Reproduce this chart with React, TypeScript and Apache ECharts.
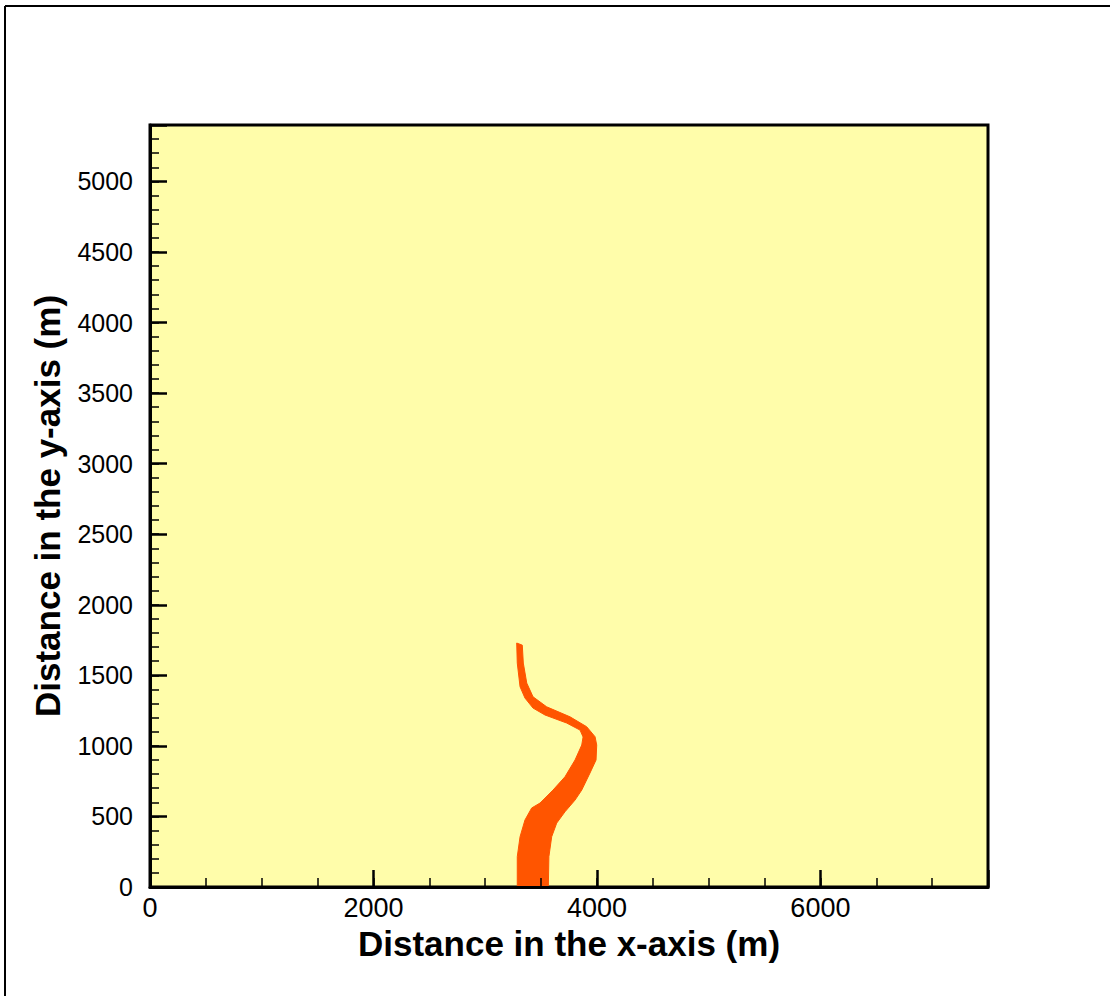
import React, { useEffect, useRef } from "react";
import * as echarts from "echarts";

// Axis ranges and tick spacing
const xRange = [0, 7500];
const yRange = [0, 5400];
const xMajorStep = 2000;
const xMinorStep = 500;
const yMajorStep = 500;
const yMinorStep = 100;

// Plume outline: left edge from tip down to the base (x, y in metres)
const leftEdgeX = [3282, 3287, 3312, 3356, 3428, 3535, 3729, 3849, 3876, 3864, 3804, 3714, 3607, 3491, 3416, 3356, 3312, 3287, 3287];
const leftEdgeY = [1729, 1587, 1419, 1339, 1268, 1219, 1162, 1112, 1063, 1006, 900, 781, 687, 595, 560, 475, 356, 215, 0];
// Right edge from tip down to the base
const rightEdgeX = [3332, 3341, 3372, 3428, 3550, 3759, 3908, 3983, 3998, 3992, 3938, 3864, 3804, 3714, 3640, 3595, 3570, 3565];
const rightEdgeY = [1714, 1587, 1445, 1348, 1277, 1206, 1136, 1065, 1006, 900, 808, 687, 616, 533, 453, 356, 215, 0];

const FONT = "'Liberation Sans', Arial, sans-serif";

export default function App() {
  const ref = useRef<HTMLDivElement>(null);

  useEffect(() => {
    if (!ref.current) return;
    const chart = echarts.init(ref.current, null, { renderer: "svg" });

    // closed polygon: left edge downwards, right edge back upwards
    const outline: number[][] = [];
    leftEdgeX.forEach((x, i) => outline.push([x, leftEdgeY[i]]));
    for (let i = rightEdgeX.length - 1; i >= 0; i--) outline.push([rightEdgeX[i], rightEdgeY[i]]);

    chart.setOption({
      animation: false,
      backgroundColor: "#ffffff",
      grid: {
        left: 150,
        right: 122,
        top: 125,
        bottom: 109,
        show: true,
        backgroundColor: "#FFFDAA",
        borderColor: "#000000",
        borderWidth: 3,
        z: 0,
      },
      xAxis: [
        {
          type: "value",
          position: "bottom",
          min: xRange[0],
          max: xRange[1],
          interval: xMajorStep,
          splitLine: { show: false },
          axisLine: { show: true, lineStyle: { color: "#000", width: 3 } },
          axisTick: { show: true, inside: true, length: 17, lineStyle: { color: "#000", width: 2.5 } },
          axisLabel: {
            color: "#000",
            fontSize: 27,
            fontFamily: FONT,
            margin: 7,
            formatter: (v: number) => (v % xMajorStep === 0 ? String(v) : ""),
          },
          name: "Distance in the x-axis (m)",
          nameLocation: "middle",
          nameGap: 33,
          nameTextStyle: { color: "#000", fontSize: 35, fontWeight: "bold", fontFamily: FONT },
          z: 5,
        },
        {
          type: "value",
          position: "bottom",
          min: xRange[0],
          max: xRange[1],
          interval: xMinorStep,
          splitLine: { show: false },
          axisLine: { show: false },
          axisTick: { show: true, inside: true, length: 9, lineStyle: { color: "#000", width: 1.5 } },
          axisLabel: { show: false },
          z: 5,
        },
      ],
      yAxis: [
        {
          type: "value",
          position: "left",
          min: yRange[0],
          max: yRange[1],
          interval: yMajorStep,
          splitLine: { show: false },
          axisLine: { show: true, lineStyle: { color: "#000", width: 3 } },
          axisTick: { show: true, inside: true, length: 17, lineStyle: { color: "#000", width: 2.5 } },
          axisLabel: {
            color: "#000",
            fontSize: 25,
            fontFamily: FONT,
            margin: 17,
            formatter: (v: number) => (v % yMajorStep === 0 ? String(v) : ""),
          },
          name: "Distance in the y-axis (m)",
          nameLocation: "middle",
          nameGap: 85,
          nameTextStyle: { color: "#000", fontSize: 35, fontWeight: "bold", fontFamily: FONT },
          z: 5,
        },
        {
          type: "value",
          position: "left",
          min: yRange[0],
          max: yRange[1],
          interval: yMinorStep,
          splitLine: { show: false },
          axisLine: { show: false },
          axisTick: { show: true, inside: true, length: 9, lineStyle: { color: "#000", width: 1.5 } },
          axisLabel: { show: false },
          z: 5,
        },
      ],
      series: [
        {
          type: "custom",
          xAxisIndex: 0,
          yAxisIndex: 0,
          clip: true,
          data: [[0, 0]],
          renderItem: (_params: any, api: any) => ({
            type: "polygon",
            shape: { points: outline.map((p) => api.coord(p)) },
            style: { fill: "#FF5500", stroke: "#FF5500", lineWidth: 1 },
          }),
          z: 2,
        },
      ],
      graphic: [
        { type: "line", shape: { x1: 5, y1: 6, x2: 1110, y2: 6 }, style: { stroke: "#000", lineWidth: 2 } },
        { type: "line", shape: { x1: 5, y1: 6, x2: 5, y2: 996 }, style: { stroke: "#000", lineWidth: 2 } },
      ],
    });

    return () => chart.dispose();
  }, []);

  return (
    <div
      ref={ref}
      style={{ position: "absolute", left: 0, top: 0, width: 1110, height: 996 }}
    />
  );
}
